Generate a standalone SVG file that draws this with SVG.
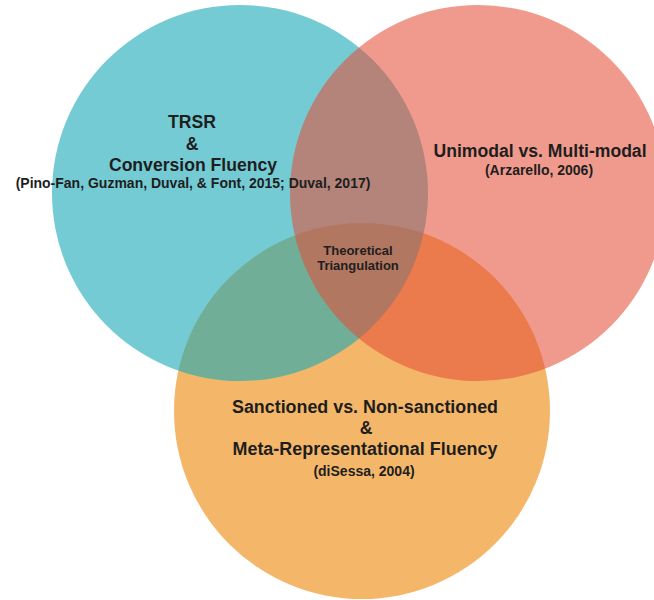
<svg xmlns="http://www.w3.org/2000/svg" width="654" height="600" viewBox="0 0 654 600">
<style>
.t{font-family:"Liberation Sans",Arial,sans-serif;font-weight:bold;fill:#1e1e1e;text-anchor:middle}
.big{font-size:17.6px}
.cit{font-size:14px}
.mid{font-size:13px}
</style>
<rect width="654" height="600" fill="#ffffff"/>
<g id="circle-orange">
<circle cx="362" cy="411" r="188" fill="#f4b76a"/>
</g>
<g id="circle-teal">
<circle cx="240" cy="193" r="188" fill="#17a8b6" fill-opacity="0.6"/>
</g>
<g id="circle-red">
<circle cx="478" cy="193" r="188" fill="#e44d36" fill-opacity="0.57"/>
</g>
<g id="label-trsr">
<text class="t big" x="192" y="128">TRSR</text>
<text class="t big" x="192" y="150">&amp;</text>
<text class="t big" x="193" y="171">Conversion Fluency</text>
<text class="t cit" x="193" y="188">(Pino-Fan, Guzman, Duval, &amp; Font, 2015; Duval, 2017)</text>
</g>
<g id="label-unimodal">
<text class="t big" x="540" y="157">Unimodal vs. Multi-modal</text>
<text class="t cit" x="539" y="175">(Arzarello, 2006)</text>
</g>
<g id="label-center">
<text class="t mid" x="358" y="255">Theoretical</text>
<text class="t mid" x="358" y="270">Triangulation</text>
</g>
<g id="label-sanctioned">
<text class="t big" x="365" y="413" textLength="266" lengthAdjust="spacingAndGlyphs">Sanctioned vs. Non-sanctioned</text>
<text class="t big" x="366" y="434">&amp;</text>
<text class="t big" x="365" y="455" textLength="265" lengthAdjust="spacingAndGlyphs">Meta-Representational Fluency</text>
<text class="t cit" x="364" y="476">(diSessa, 2004)</text>
</g>
<g id="connectors"></g>
</svg>
